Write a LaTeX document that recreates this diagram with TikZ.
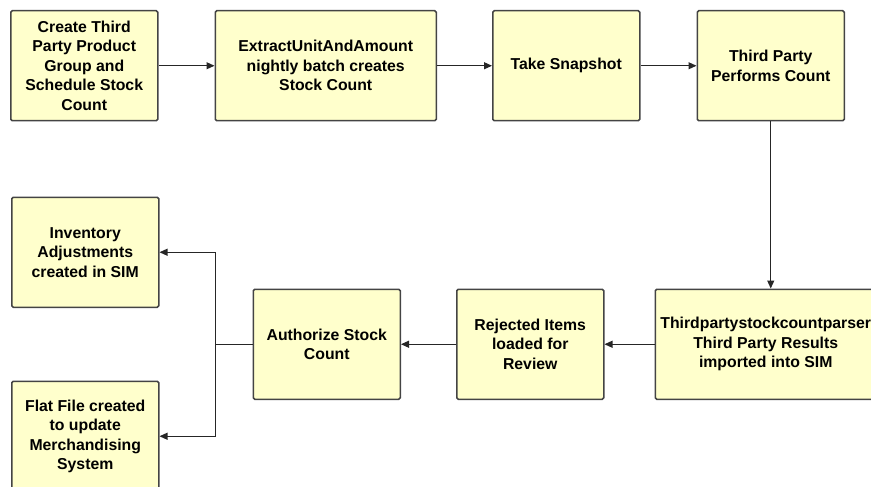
\documentclass[tikz,border=0pt]{standalone}
\usepackage{fontspec}
\setmainfont{Liberation Sans}
\usepackage{tikz}
\usetikzlibrary{arrows.meta,positioning}
\definecolor{boxfill}{HTML}{FFFFCC}
\definecolor{boxline}{HTML}{444444}

\begin{document}
\begin{tikzpicture}[>={Triangle[length=8pt,width=7pt]},node distance=56pt,
  box/.style={draw=boxline,line width=1.5pt,rounded corners=1.5pt,fill=boxfill,align=center,
    minimum width=147pt,minimum height=110pt,inner sep=2pt,
    font=\fontsize{15.8}{19.5}\selectfont\bfseries},
  link/.style={draw=black!85,line width=1.2pt}]
  \useasboundingbox (0,0) rectangle (871pt,-487pt);
  \node[box,anchor=north west] (create) at (10pt,-10pt) {Create Third\\Party Product\\Group and\\Schedule Stock\\Count};
  \node[box,right=of create,minimum width=221pt] (extract) {ExtractUnitAndAmount\\nightly batch creates\\Stock Count};
  \node[box,right=55pt of extract] (snap) {Take Snapshot};
  \node[box,right=of snap] (count) {Third Party\\Performs Count};
  \node[box,below=167pt of count,xshift=-5pt,minimum width=221pt] (parse) {Thirdpartystockcountparser\\Third Party Results\\imported into SIM};
  \node[box,left=50pt of parse] (reject) {Rejected Items\\loaded for\\Review};
  \node[box,left=55pt of reject] (auth) {Authorize Stock\\Count};
  \coordinate[left=37pt of auth] (split);
  \node[box,left=56pt of split,yshift=92pt] (inv) {Inventory\\Adjustments\\created in SIM};
  \node[box,left=56pt of split,yshift=-92pt] (flat) {Flat File created\\to update\\Merchandising\\System};
  \draw[link,->] (create) -- (extract);
  \draw[link,->] (extract) -- (snap);
  \draw[link,->] (snap) -- (count);
  \draw[link,->] (count.south) -- (count.south |- parse.north);
  \draw[link,->] (parse) -- (reject);
  \draw[link,->] (reject) -- (auth);
  \draw[link] (auth.west) -- (split);
  \draw[link,->] (split) |- (inv.east);
  \draw[link,->] (split) |- (flat.east);
\end{tikzpicture}
\end{document}
